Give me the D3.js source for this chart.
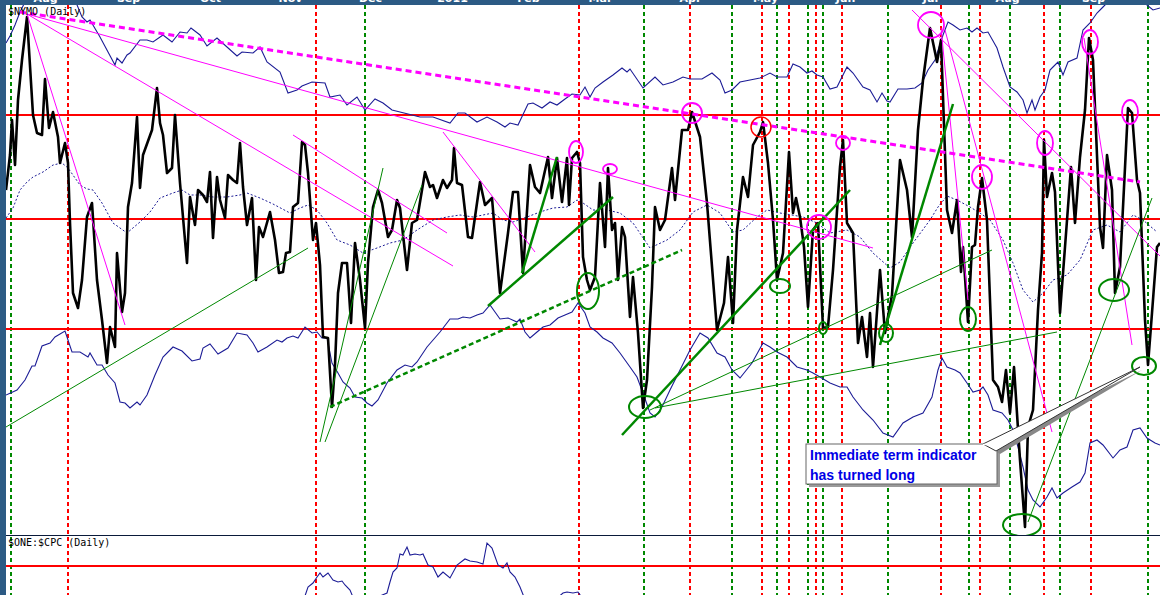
<!DOCTYPE html>
<html>
<head>
<meta charset="utf-8">
<script src="https://cdn.jsdelivr.net/npm/d3@7"></script>
<style>
  html, body { margin: 0; padding: 0; background: #fff; }
  svg { display: block; }
</style>
</head>
<body>
<div id="chart"></div>
<script>
// NYMO (daily) with bollinger bands + $ONE:$CPC lower pane, trendline annotations

// x is trading day index, y is oscillator value
const monthLabels = ["Aug", "Sep", "Oct", "Nov", "Dec", "2011", "Feb", "Mar", "Apr", "May", "Jun", "Jul", "Aug", "Sep"];
const monthDays = [9.75, 30.5, 51, 71, 91, 111.5, 130.5, 148.5, 171, 189.75, 209.75, 231, 250.25, 271.75];

const redDays = [15.5, 77.5, 143.25, 171, 189, 195.75, 202.5, 209, 233.75, 243.5, 259.5, 271.25];
const greenDays = [1.25, 89.75, 159.5, 181.5, 192.75, 200.5, 204.25, 220.5, 240.75, 251, 263.5, 285.5];
const levels = [52, 0, -55];
const cpcLevel = 1.4;

const osc = [[0,14.5],[1,32],[1.5,49.5],[2.25,27],[3,59.5],[4,79.5],[5.25,101],[6.75,52],[7.75,43],[9,42],
  [9.75,70],[10.75,45.5],[11.75,53.5],[13,41],[13.5,28],[14.75,38],[15.5,28],[16,-2],[16.75,-37],[18,-44.5],
  [19,-30.5],[20.25,1],[21.5,8],[22.75,-30.5],[24,-50.5],[25.25,-72],[26,-54],[27.25,-64],[27.75,-17],[29,-46.5],
  [29.75,-37],[30.5,6],[31.5,18],[32.75,51],[33.5,15.5],[34.25,32],[36.5,44.5],[37.75,65.5],[38.5,48],[39.25,42],
  [40.25,23],[41.5,25.5],[42.25,52],[43.5,18],[45.25,-22],[46,11],[47.25,-3],[48,14.5],[49.25,12],[50.25,8.5],
  [51,23.5],[51.75,-9.5],[52.75,21],[53.5,9.5],[54.75,0.5],[55.5,22],[56.75,19.5],[57.75,18],[58.5,38],[59.25,16],
  [60.25,-3],[61.5,10.5],[62.5,-30.5],[63.25,-4],[64.25,-9],[66,3.5],[67.25,-10.5],[68.25,-27],[69.25,-26.5],[70,-17],
  [71,-16.5],[71.75,6],[73,8],[74,38.5],[74.75,37],[75.5,23],[76.75,-10.5],[77.5,-2],[78.5,-23],[79.25,-59],
  [80.5,-59.5],[81.5,-94],[82.25,-73],[83,-37],[84,-22],[85.25,-22],[86.25,-52],[87.25,-12],[88.5,-30.5],[89.75,-54.5],
  [90.5,-22],[91.75,6],[93,14.5],[94,8],[95.5,-9],[96.5,-5.5],[97.75,9.5],[98.5,5.5],[100.25,-25.5],[101.5,-2],
  [102.75,-0.5],[104.75,23.5],[106,16],[106.75,17],[107.75,10.5],[109.25,19.5],[110.25,15.5],[111.5,19.5],[112,35.5],[112.75,18],
  [114,17],[115.5,-9],[116.5,-9.5],[118.5,18.5],[119.75,7],[121.5,10.5],[123.5,-37],[125.5,-7],[126.75,13.5],[128,13.5],
  [129.25,-27],[131,27],[132.25,16],[133.5,13],[135.5,31],[136.5,10.5],[137.75,30.5],[139,8.5],[140.25,30.5],[140.75,7],
  [141.5,30.5],[142.75,33.5],[143.5,28],[144.25,-19],[145.25,-30.5],[146,-35.5],[147.25,-29],[148.5,18],[149.75,-14],[150.5,25.5],
  [151.5,-5.5],[152.25,-2],[153,-30.5],[154,-4],[154.75,-9],[156,-49],[156.75,-29],[158,-57],[159.25,-94.5],[160.25,-80.5],
  [161.5,-34],[162.25,6],[163.5,-5.5],[164.75,-0.5],[166.5,25.5],[167.25,9.5],[169,44.5],[170.5,44.5],[171.5,53.5],[173.5,41],
  [175.25,8],[177.75,-55.5],[179.5,-42],[180.5,-19],[181.75,-52],[182.75,-5.5],[184.25,21],[185.5,11],[186.75,37],[188.5,43.5],
  [189.25,48.5],[190.5,28],[191.75,-0.5],[192.75,-30.5],[194.25,-17],[195.75,33.5],[196.75,3],[197.5,10.5],[198.5,1],[199.5,-14],
  [200.5,-44],[201.75,-5.5],[203,-2],[204.25,-54.5],[205.5,-54],[206.75,-25.5],[208.5,26],[209.25,39.5],[210.25,-2],[211.75,-7],
  [213,-62],[214,-49],[215.25,-69],[216,-47],[216.75,-74],[218.5,-25.5],[219.75,-57],[221.5,-38],[223.5,29.5],[225.25,14.5],
  [226.5,-9],[228,44.5],[229.25,69.5],[231,95.5],[232.75,78.5],[233.75,89.5],[235.25,4.5],[236.5,-7],[237.75,9.5],[238.75,-26.5],
  [239.25,-14],[240.5,-51.5],[241.5,-14],[242.25,-13],[243,6],[244,20.5],[245.25,-0.5],[246.75,-80.5],[248,-84],[249,-91.5],
  [250,-75.5],[251,-97],[252,-74],[253.5,-120.5],[254.75,-154],[255.5,-104],[256.75,-95.5],[258,-45.5],[259,-17],[259.5,39.5],
  [260.25,11],[261.5,23],[262.25,13.5],[263.5,-47],[264.75,-14],[266.25,26],[267.25,-2],[268.5,31],[269.75,54.5],[270.75,90.5],
  [271.75,79.5],[273.5,-4],[274.25,-14.5],[275.25,32],[276.5,14.5],[277.25,-37],[278.5,-24],[280.5,55.5],[281.5,53],[282.75,19.5],
  [283.5,13],[284.75,-50.5],[285.5,-73],[286.5,-47],[287.75,-14],[288.5,-12]];

const avg = [[0,0.5],[1.75,5.5],[3.5,14.5],[5.25,18.5],[6.75,21],[9.25,23.5],[11.75,27],[14,28],[15.5,25.5],[18.5,17],
  [20.25,15],[21.75,14.5],[24,8],[26.75,-2],[30.25,-7],[33.5,-1.5],[36,3.5],[38.5,10.5],[41.75,13],[44,14.5],
  [46,12],[48.5,12],[51.75,11],[55.25,11],[58.5,12],[60.25,13],[63.5,10.5],[66.75,7.5],[71,3],[73.5,5.5],
  [75.5,7],[77.75,4.5],[80.25,-2],[82.75,-10.5],[86,-13],[89.25,-17],[92.75,-14.5],[96,-12],[99.25,-10.5],[102.75,-5.5],
  [106.75,-0.5],[110.25,1],[113.5,2],[116.75,1],[119.25,2],[121.75,3],[124.25,-0.5],[126.75,-1.5],[130.25,1],[133.5,3.5],
  [136.75,5.5],[140.25,6],[142.75,9.5],[144.25,8],[146.75,4.5],[150.25,4.5],[153.5,3],[156.75,-2],[161,-14.5],[165.25,-10.5],
  [168.5,-5.5],[171.75,3.5],[175.25,7],[178.5,3],[181.75,-6.5],[184.25,-5.5],[187.75,1],[190.25,4.5],[193.5,3],[196.5,2],
  [199.25,1],[202.75,-2],[206,-7],[210.25,-5.5],[213.5,-9],[216.75,-17],[221,-24.5],[223.5,-21.5],[226.75,-12],[231,-0.5],
  [233,6],[235.25,11.5],[237.75,9.5],[241,6],[243.5,3],[246,-0.5],[249.25,-10.5],[251.75,-22],[254.25,-35.5],[256.75,-41.5],
  [259.25,-37],[261.75,-30.5],[265.25,-28],[268.5,-20.5],[271.75,-5.5],[275.25,-3],[278.5,-6.5],[281.75,2],[284.25,-0.5],[287.75,-6.5]];

const upperBand = [[0,88],[1,91.5],[2.25,97],[3.5,103.5],[4.75,108.5],[8.5,115.5],[13.5,116.5],[17.25,109.5],[19,101],[20.25,98.5],
  [21,99.5],[23.5,91],[27.25,77],[27.75,80.5],[29,78],[30.25,82],[31,83],[33.5,89.5],[35.25,89.5],[36.75,88.5],
  [39.25,92],[41.5,88.5],[43.5,93.5],[45.25,93],[46.25,95.5],[48.5,92],[50.25,86.5],[52.75,90.5],[55.25,86],[57.75,81.5],
  [59,83.5],[61.75,83],[63.5,86],[65.25,78.5],[68.5,73.5],[70.5,63],[72.75,64.5],[74,66.5],[76.5,68.5],[79.75,68],
  [81,61],[83.5,62],[85.25,57],[87.75,61],[89.75,54.5],[92.25,60],[94.25,58],[96.5,54.5],[98.5,53.5],[103.5,51],
  [106.75,51],[111,48],[113,53],[114.75,53],[117.75,48.5],[120.25,51],[122.75,48.5],[124.75,46],[126,48],[128,47],
  [130.5,57.5],[131.75,58],[134,55.5],[136,58.5],[137.75,57],[139.75,60],[141.5,62.5],[143.5,62],[144.75,66],[146,61],
  [147.25,65.5],[149.25,68.5],[151.75,72],[154,75.5],[155.25,73.5],[156,75],[159.25,65.5],[162.25,71],[164.25,67],[166.75,68.5],
  [169.25,71],[171,70],[174,70],[176.5,73],[178.5,69.5],[179.75,63],[181.5,64.5],[183.5,68.5],[186,69.5],[188.5,70.5],
  [191,73],[192.75,71],[195.25,71],[196.75,77.5],[198.5,76],[200.25,73],[201.5,74],[202.75,72],[204.25,71],[206,65],
  [207.75,66],[210.25,76],[211.75,73],[214.25,66],[216,64.5],[217.75,58.5],[219,63],[220.25,59],[221,58.5],[223,65],
  [225.25,65],[227.25,65.5],[229,68],[230.5,74.5],[232.25,79.5],[234.25,92],[235.5,98.5],[236.75,97],[238.5,94.5],[240.25,95.5],
  [241.5,93.5],[242.75,95.5],[244.25,93],[245.5,93.5],[247.75,85.5],[249.25,76],[251,66],[252.75,63.5],[254.25,59.5],[255.25,53],
  [256.5,59.5],[257.25,54.5],[258.5,61],[259.75,64.5],[261,74.5],[261.75,76],[263,78.5],[264.25,72],[265.5,78.5],[267.75,80.5],
  [269.25,94.5],[271,98],[272.75,103],[274.25,106],[276,109.5],[279.75,112.5],[283.5,112],[285.25,107],[286.75,104.5],[288.5,105.5]];

const lowerBand = [[0,-88],[2.75,-85.5],[4.75,-80.5],[6.5,-73.5],[7.25,-73.5],[9,-63.5],[11,-62],[12.25,-59],[14.75,-56],[16.5,-66.5],
  [18.5,-66.5],[20.5,-69],[21,-67],[22.75,-73],[24,-73],[25.5,-78],[27.25,-82],[28.5,-91.5],[29.75,-92],[31,-94.5],
  [32.75,-91.5],[33.5,-93],[35.25,-88],[37.25,-78],[39.25,-69],[41.75,-64],[44,-66],[46.5,-71],[48.5,-70],[49.25,-64.5],
  [51,-62.5],[53,-67.5],[55.5,-64.5],[57.75,-57],[60.25,-58],[61.75,-62],[63,-66.5],[65.25,-64],[67.75,-60.5],[69,-61.5],
  [70.25,-59.5],[71.75,-58.5],[73,-59.5],[74.75,-54],[76.5,-57],[77.75,-56.5],[79,-59.5],[80.25,-59.5],[81.5,-72],[83,-77],
  [84.25,-81.5],[86,-84.5],[87.25,-89],[89,-89.5],[90.25,-92],[91.5,-93.5],[93,-90.5],[95.25,-82],[97.75,-75.5],[99.75,-73],
  [101.5,-74],[102.75,-71.5],[105.25,-64],[108.5,-56.5],[111,-50],[113,-50],[114.25,-49],[116,-49.5],[117.75,-48],[119.25,-47],
  [121,-43],[122.25,-46.5],[123.5,-50],[125.5,-49.5],[127.75,-51.5],[128.5,-50],[129.75,-56.5],[131,-59.5],[132.75,-56.5],[134.25,-54],
  [136,-53],[138,-49.5],[139.75,-48],[141.5,-46.5],[143,-42],[144.75,-47],[146,-54],[147.75,-56.5],[149.25,-59.5],[151.5,-62],
  [153.5,-67],[156,-74],[157.75,-79],[159.25,-87],[161,-97],[162.25,-99],[164,-94],[166,-85.5],[168.5,-75.5],[171,-65.5],
  [173.5,-57],[175.5,-59.5],[177.75,-67],[179.75,-69],[181.5,-75.5],[183.5,-79.5],[186.5,-72],[189.25,-62],[191,-64],[192.75,-66.5],
  [195.25,-69],[197.75,-74],[200.25,-75.5],[201.75,-77],[203.5,-79],[206,-82],[208.5,-84],[210.25,-84],[211.75,-89],[214.25,-95.5],
  [216.75,-100.5],[219.25,-107],[221.75,-109],[224.25,-102],[226.75,-99],[229.25,-97],[231.5,-89],[233,-75.5],[234,-69.5],[235.25,-74],
  [237.25,-75.5],[238.5,-77],[240.25,-82],[241.75,-86.5],[243.5,-85.5],[244.25,-84],[245.5,-88],[246.75,-95.5],[249,-97],[250.5,-100.5],
  [251.75,-105.5],[253,-114],[254.25,-124],[255.5,-135.5],[256.75,-140.5],[258.5,-144],[260.25,-139],[261.5,-134.5],[262.75,-139.5],[264.25,-137],
  [266.5,-134],[268.5,-131.5],[269.75,-127],[271,-112],[272.75,-110.5],[274.25,-113],[276.75,-119.5],[278.5,-115.5],[280.25,-114],[281.75,-105.5],
  [283.5,-104.5],[285.25,-109.5],[287.25,-112],[288.5,-113]];

const cpc = [[0,1.1],[60,1.12],[73.5,1.18],[75,1.265],[75.5,1.295],[76.75,1.315],[77.75,1.345],[78.5,1.365],[79.25,1.345],[80.5,1.365],
  [81.75,1.33],[83,1.32],[84,1.325],[84.75,1.305],[86,1.28],[87.25,1.22],[89.75,1.17],[92.25,1.22],[93.5,1.25],[95.25,1.265],
  [96,1.32],[96.75,1.37],[97.75,1.39],[98.5,1.46],[99.25,1.455],[100.25,1.495],[101,1.455],[102.25,1.46],[103.5,1.455],[104.25,1.46],
  [105.5,1.405],[106.75,1.395],[108,1.345],[109.25,1.37],[111,1.34],[112.75,1.405],[114.75,1.435],[116,1.425],[117.75,1.42],[119.25,1.41],
  [120.25,1.515],[121.5,1.49],[123,1.405],[124.25,1.39],[125.25,1.415],[126,1.37],[127.25,1.345],[128.5,1.295],[129.5,1.245],[132.25,1.17],
  [137.25,1.23],[139.25,1.265],[140.25,1.27],[141.75,1.265],[143,1.27],[144.75,1.22],[158.5,1.155],[168.5,1.21],[170.25,1.25],[171.5,1.24],
  [173.5,1.17],[200,1.12],[288.5,1.1]];

// trendlines: [day1, value1, day2, value2]
const pinkLines = [[5.25,102.5,29.75,-53],[5.25,102.5,111.75,-23.5],[5.25,102.5,216.75,-14.5],[71.75,42,110.25,-7],
  [109.25,43.5,132.25,-16.5],[226.5,104.5,288.5,-18.5],[233.75,95.5,240.5,-40.5],[234.75,94.5,261.5,-106.5],[269.5,90.5,281.5,-63]];
const pinkDashed = [[3.5,103.5,283.5,18.5]];
const greenThin = [[0,-104,75.5,-14.5],[78.5,-111.5,94.25,25.5],[79.75,-111.5,104,17],[161,-95.5,246.5,-15.5],
  [162.25,-94.5,262.75,-56.5],[255.5,-151.5,286.5,10.5]];
const greenThick = [[120.5,-43.5,151.75,11],[129,-27,137.75,31],[154,-108,211,14.5],[218.5,-63,236.75,57.5]];
const greenDashed = [[81,-94,169,-15.5]];

// rings: [day, value, half-width in days, half-height in value]
const pinkRings = [[142.5,33.5,1.75,5.5],[151,25,1.75,2.5],[171.5,53,2.5,5],[209.25,38,1.75,3.5],[203.25,-4,3,6],
  [231.25,97,3.25,6.5],[244,21,2.5,6],[259.75,38,2,6],[271,88.5,2,6],[281,53.5,2,6]];
const redRings = [[188.75,46,2.5,5]];
const greenRings = [[159.75,-94,4,5.5],[145.5,-36,2.75,9],[193.5,-33.5,2.5,3.5],[204.25,-54.5,1,3],[220,-57,1.75,4.5],
  [240.5,-50,2,6],[254,-153,4.75,5.5],[277,-35.5,3.75,5.5],[284.5,-73.5,3,4.5]];

const note = ["Immediate term indicator", "has turned long"];
const noteAt = [200, -112.5];     // top-left corner of the note box
const notePoint = [283.5, -74];   // where the callout points

const width = 1160;
const height = 595;
const padL = 6, padT = 5, split = 535;
const frame = "#2c5a84";

const x = d3.scaleLinear().domain([0, 288.5]).range([padL, width]);
const y = d3.scaleLinear().domain([-110, 105]).range([439, 9]);
const y2 = d3.scaleLinear().domain([1.2, 1.6]).range([606, 526]);

const svg = d3.select("#chart").append("svg")
    .attr("width", width)
    .attr("height", height)
    .attr("viewBox", [0, 0, width, height]);

const defs = svg.append("defs");
defs.append("clipPath").attr("id", "upper")
  .append("rect").attr("x", padL).attr("y", padT).attr("width", width - padL).attr("height", split - padT);
defs.append("clipPath").attr("id", "lower")
  .append("rect").attr("x", padL).attr("y", split + 1).attr("width", width - padL).attr("height", height - split);

// frame
svg.append("rect").attr("width", width).attr("height", height).attr("fill", "#fff");
svg.append("rect").attr("width", padL).attr("height", height).attr("fill", frame);
svg.append("rect").attr("width", width).attr("height", padT).attr("fill", frame);

// month labels along the top bar (mostly cut off)
svg.append("g")
    .attr("transform", `translate(0,${padT})`)
    .call(d3.axisTop(x).tickValues(monthDays).tickFormat((d, i) => monthLabels[i]).tickSize(0).tickPadding(3))
    .call(g => g.select(".domain").remove())
    .call(g => g.selectAll("text")
        .attr("fill", "#fff")
        .attr("font-family", "Verdana, 'DejaVu Sans', sans-serif")
        .attr("font-weight", "bold")
        .attr("font-size", 11));

// vertical cycle markers
const vlines = svg.append("g");
vlines.selectAll(".vr").data(redDays).join("line")
    .attr("x1", d => x(d)).attr("x2", d => x(d))
    .attr("y1", padT).attr("y2", height)
    .attr("stroke", "#f00").attr("stroke-width", 2).attr("stroke-dasharray", "4,3");
vlines.selectAll(".vg").data(greenDays).join("line")
    .attr("x1", d => x(d)).attr("x2", d => x(d))
    .attr("y1", padT).attr("y2", height)
    .attr("stroke", "#080").attr("stroke-width", 2).attr("stroke-dasharray", "4,3");

// separator between panes
svg.append("line")
    .attr("x1", padL).attr("x2", width).attr("y1", split + 0.5).attr("y2", split + 0.5)
    .attr("stroke", "#0a1a3a").attr("stroke-width", 1);

// ---- upper pane
const up = svg.append("g").attr("clip-path", "url(#upper)");

up.selectAll(".lvl").data(levels).join("line")
    .attr("x1", padL).attr("x2", width)
    .attr("y1", d => y(d)).attr("y2", d => y(d))
    .attr("stroke", "#f00").attr("stroke-width", 2);

const line = d3.line().x(d => x(d[0])).y(d => y(d[1]));

up.selectAll(".band").data([upperBand, lowerBand]).join("path")
    .attr("d", line)
    .attr("fill", "none").attr("stroke", "#1c1c96").attr("stroke-width", 1.1);

up.append("path")
    .attr("d", line(avg))
    .attr("fill", "none").attr("stroke", "#1c1c96").attr("stroke-width", 1).attr("stroke-dasharray", "2,2");

up.append("path")
    .attr("d", line(osc))
    .attr("fill", "none").attr("stroke", "#000").attr("stroke-width", 2.6)
    .attr("stroke-linejoin", "round");

function seg(g, data, color, w, dash) {
  g.append("g").selectAll("line").data(data).join("line")
      .attr("x1", d => x(d[0])).attr("y1", d => y(d[1]))
      .attr("x2", d => x(d[2])).attr("y2", d => y(d[3]))
      .attr("stroke", color).attr("stroke-width", w)
      .attr("stroke-dasharray", dash || null);
}
seg(up, pinkLines, "#f0f", 1);
seg(up, pinkDashed, "#f0f", 3, "6,4");
seg(up, greenThin, "#080", 1);
seg(up, greenThick, "#080", 2.5);
seg(up, greenDashed, "#080", 2.5, "5,3");

function rings(g, data, color, w) {
  g.append("g").selectAll("ellipse").data(data).join("ellipse")
      .attr("cx", d => x(d[0])).attr("cy", d => y(d[1]))
      .attr("rx", d => x(d[0] + d[2]) - x(d[0]))
      .attr("ry", d => y(d[1]) - y(d[1] + d[3]))
      .attr("fill", "none").attr("stroke", color).attr("stroke-width", w);
}
rings(up, pinkRings, "#f0f", 1.8);
rings(up, redRings, "#f00", 1.5);
rings(up, greenRings, "#080", 2);

// ---- lower pane
const lo = svg.append("g").attr("clip-path", "url(#lower)");
lo.append("line")
    .attr("x1", padL).attr("x2", width).attr("y1", y2(cpcLevel)).attr("y2", y2(cpcLevel))
    .attr("stroke", "#f00").attr("stroke-width", 2);
lo.append("path")
    .attr("d", d3.line().x(d => x(d[0])).y(d => y2(d[1]))(cpc))
    .attr("fill", "none").attr("stroke", "#1c1c96").attr("stroke-width", 1.1);

// pane titles
const mono = "'DejaVu Sans Mono', monospace";
svg.append("text").attr("x", padL + 2).attr("y", 15)
    .attr("font-family", mono).attr("font-size", 10).attr("fill", "#000").text("$NYMO (Daily)");
svg.append("text").attr("x", padL + 2).attr("y", split + 11)
    .attr("font-family", mono).attr("font-size", 10).attr("fill", "#000").text("$ONE:$CPC (Daily)");

// ---- callout note
const bx = x(noteAt[0]), by = y(noteAt[1]);
const bw = 191, bh = 40;
const tipX = x(notePoint[0]), tipY = y(notePoint[1]);
const ann = svg.append("g");
ann.append("rect").attr("x", bx + 3).attr("y", by + 3).attr("width", bw).attr("height", bh).attr("fill", "#9a9a9a");
ann.append("polygon")
    .attr("points", [[bx + bw - 9, by + 2], [bx + bw + 3, by + 10], [tipX + 2, tipY + 3]].join(" "))
    .attr("fill", "#888");
ann.append("rect").attr("x", bx).attr("y", by).attr("width", bw).attr("height", bh)
    .attr("fill", "#fff").attr("stroke", "#666").attr("stroke-width", 1);
ann.append("polygon")
    .attr("points", [[bx + bw - 14, by], [bx + bw - 1, by + 7], [tipX, tipY]].join(" "))
    .attr("fill", "#fff").attr("stroke", "#333").attr("stroke-width", 1);
ann.append("line")
    .attr("x1", bx + bw - 14).attr("y1", by + 0.5).attr("x2", bx + bw - 1).attr("y2", by + 0.5)
    .attr("stroke", "#fff").attr("stroke-width", 1.5);
ann.selectAll("text").data(note).join("text")
    .attr("x", bx + 4)
    .attr("y", (d, i) => by + 16 + i * 20)
    .attr("font-family", "'Liberation Sans', Arial, sans-serif")
    .attr("font-weight", "bold")
    .attr("font-size", 14)
    .attr("fill", "#0000e6")
    .text(d => d);
</script>
</body>
</html>
